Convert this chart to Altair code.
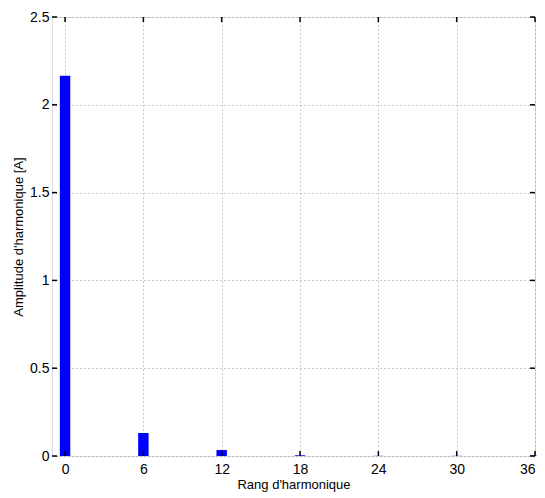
import altair as alt
import pandas as pd

harmonics = [0, 6, 12, 18, 24, 30, 36]
amplitudes = [2.165, 0.131, 0.034, 0.004, 0.001, 0.001, 0.002]
x_ticks = [0, 6, 12, 18, 24, 30, 36]
y_ticks = [0, 0.5, 1, 1.5, 2, 2.5]
bar_width = 0.8

df = pd.DataFrame({"h": harmonics, "a": amplitudes})
xt = pd.DataFrame({"t": x_ticks})
yt = pd.DataFrame({"t": y_ticks})

W, H = 483, 439
FONT = "Liberation Sans"

xscale = alt.Scale(domain=[-1, 36], nice=False, zero=False)
yscale = alt.Scale(domain=[0, 2.5], nice=False)

xaxis = alt.Axis(values=x_ticks, title="Rang d'harmonique", grid=True,
                 gridDash=[1, 3], gridColor="#999999", gridWidth=1,
                 tickSize=0, labelPadding=6, domain=False,
                 labelFontSize=14, labelColor="black", labelFont=FONT,
                 titleFont=FONT, titleFontSize=13, titleFontWeight="normal",
                 titleColor="black", titlePadding=2)
yaxis = alt.Axis(values=y_ticks, title="Amplitude d'harmonique [A]", grid=True,
                 gridDash=[1, 3], gridColor="#999999", gridWidth=1,
                 tickSize=0, labelPadding=3, domain=False, format="~g",
                 labelFontSize=14, labelColor="black", labelFont=FONT,
                 titleFont=FONT, titleFontSize=13, titleFontWeight="normal",
                 titleColor="black", titlePadding=4)

bars = alt.Chart(df).transform_calculate(
    x1=f"datum.h - {bar_width/2}", x2=f"datum.h + {bar_width/2}"
).mark_bar(color="#0000FF").encode(
    x=alt.X("x1:Q", scale=xscale, axis=xaxis),
    x2="x2:Q",
    y=alt.Y("a:Q", scale=yscale, axis=yaxis),
    y2=alt.datum(0),
)

xt_bot = alt.Chart(xt).mark_rule(color="black", strokeWidth=1.5).encode(
    x=alt.X("t:Q", scale=xscale), y=alt.value(H), y2=alt.value(H - 5))
xt_top = alt.Chart(xt).mark_rule(color="black", strokeWidth=1.5).encode(
    x=alt.X("t:Q", scale=xscale), y=alt.value(0), y2=alt.value(5))
yt_left = alt.Chart(yt).mark_rule(color="black", strokeWidth=1.5).encode(
    y=alt.Y("t:Q", scale=yscale), x=alt.value(0), x2=alt.value(5))
yt_right = alt.Chart(yt).mark_rule(color="black", strokeWidth=1.5).encode(
    y=alt.Y("t:Q", scale=yscale), x=alt.value(W), x2=alt.value(W - 5))

chart = alt.layer(bars, xt_bot, xt_top, yt_left, yt_right).properties(
    width=W, height=H,
    autosize=alt.AutoSizeParams(type="none"),
    padding={"left": 44, "top": 9, "right": 2, "bottom": 40},
).configure_view(stroke="black", strokeWidth=2).configure(background="white")

chart.save("out.html", embed_options={"renderer": "svg", "actions": False})
